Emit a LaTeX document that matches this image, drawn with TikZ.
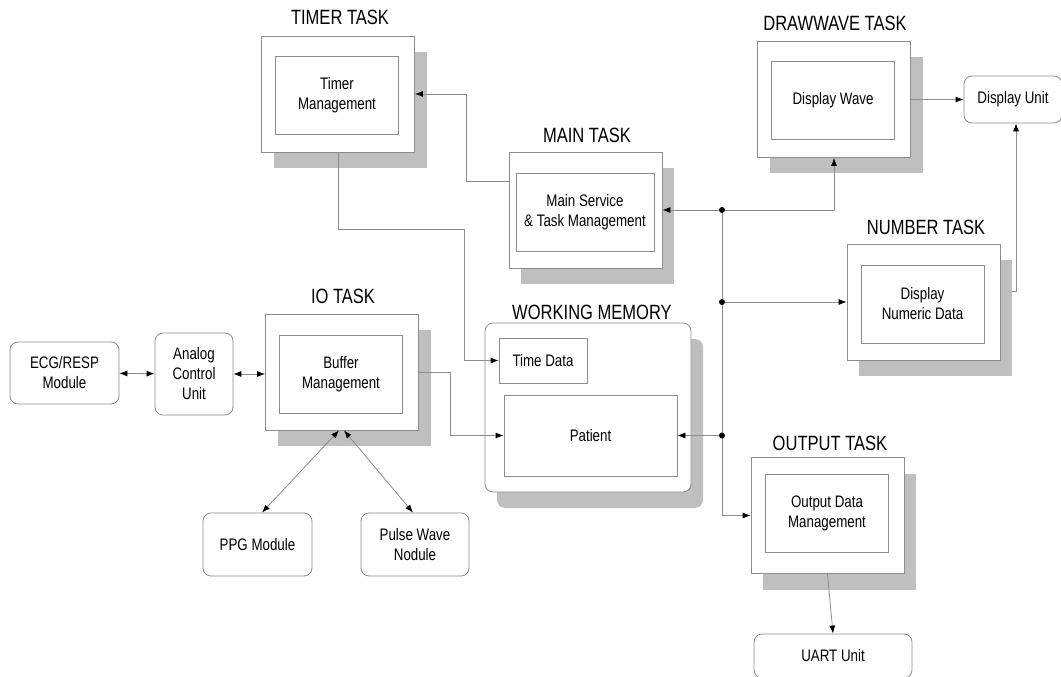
\documentclass[tikz,border=0pt]{standalone}
\usepackage{fontspec}
\setmainfont{Liberation Sans}[FakeStretch=0.8]
\usepackage{tikz}
\usetikzlibrary{arrows.meta,calc,positioning}
\tikzset{>={Latex[black,length=6pt,width=4.5pt]}}
\tikzstyle{task}=[rectangle,draw=black!45,fill=white,line width=0.6pt,inner sep=0,minimum width=114.75pt,minimum height=87pt]
\tikzstyle{backdrop}=[rectangle,fill=black!25,inner sep=0,minimum width=114.75pt,minimum height=87pt]
\tikzstyle{job}=[rectangle,draw=black!45,fill=white,line width=0.6pt,inner sep=0,align=center,minimum width=92.25pt,minimum height=58.5pt,font=\fontsize{12.5}{15}\selectfont]
\tikzstyle{module}=[rectangle,rounded corners=6pt,draw=black!45,fill=white,line width=0.6pt,inner sep=0,align=center,font=\fontsize{12.5}{15}\selectfont]
\tikzstyle{tasktitle}=[inner sep=0,font=\fontsize{15.5}{18}\selectfont]
\tikzstyle{link}=[draw=black!45,line width=0.6pt]

\begin{document}
\begin{tikzpicture}[x=0.75pt,y=-0.75pt,inner sep=1mm]
	\useasboundingbox (0,0) rectangle (1061,677);

	% shadows
	\node[backdrop] (timersh) at (350,110) {};
	\node[backdrop] (mainsh) at (597.5,226) {};
	\node[backdrop] (drawwavesh) at (846,115.5) {};
	\node[backdrop] (numbersh) at (935.5,318) {};
	\node[backdrop] (iosh) at (354,388) {};
	\node[backdrop] (outputsh) at (839.5,531.5) {};
	\node[backdrop, rounded corners=6pt, minimum width=154.5pt, minimum height=126.75pt] (memorysh) at (600,423.5) {};

	% tasks
	\node[task] (timer) at (338,94) {};
	\node[job] (timerjob) at (337,95) {Timer\\Management};
	\node[tasktitle] (timertitle) at (340,17.5) {TIMER TASK};

	\node[task] (main) at (585.5,210) {};
	\node[job, minimum width=103.5pt] (mainjob) at (585,212) {Main Service\\\& Task Management};
	\node[tasktitle] (maintitle) at (587,135) {MAIN TASK};

	\node[task] (drawwave) at (834,99.5) {};
	\node[job] (wavejob) at (833,100) {Display Wave};
	\node[tasktitle] (drawwavetitle) at (835,23) {DRAWWAVE TASK};

	\node[task] (number) at (923.5,302) {};
	\node[job] (numberjob) at (922.5,304) {Display\\Numeric Data};
	\node[tasktitle] (numbertitle) at (926,227) {NUMBER TASK};

	\node[task] (io) at (342,372) {};
	\node[job] (iojob) at (341,374.5) {Buffer\\Management};
	\node[tasktitle] (iotitle) at (343,296) {IO TASK};

	\node[task] (output) at (827.5,515.5) {};
	\node[job] (outputjob) at (827,513.5) {Output Data\\Management};
	\node[tasktitle] (outputtitle) at (830,443) {OUTPUT TASK};

	% working memory
	\node[module, minimum width=154.5pt, minimum height=126.75pt] (memory) at (588,407.5) {};
	\node[job, minimum width=66pt, minimum height=33.75pt] (timedata) at (543,360.5) {Time Data};
	\node[job, minimum width=129.75pt, minimum height=60.75pt] (patient) at (590.5,435.5) {Patient};
	\node[tasktitle] (memorytitle) at (592,312) {WORKING MEMORY};

	% units
	\node[module, minimum width=81.75pt, minimum height=46.5pt] (ecg) at (64.5,373) {ECG/RESP\\Module};
	\node[module, minimum width=58.5pt, minimum height=61.5pt] (analog) at (194,374) {Analog\\Control\\Unit};
	\node[module, minimum width=81.75pt, minimum height=47.25pt] (ppg) at (257.5,544.5) {PPG Module};
	\node[module, minimum width=81pt, minimum height=47.25pt] (pulse) at (415,544.5) {Pulse Wave\\Nodule};
	\node[module, minimum width=73.5pt, minimum height=35.25pt] (dispunit) at (1013,99.5) {Display Unit};
	\node[module, minimum width=118.5pt, minimum height=33pt] (uart) at (833,656) {UART Unit};

	\coordinate (bus1) at (722,210);
	\coordinate (bus2) at (722,302);
	\coordinate (bus3) at (722,435.5);

	\draw[link,->] ($(main.north west)+(0,30)$) -| ($(timer.east)+(51,0)$) -- (timer.east);
	\draw[link,->] (timer.south) -- ++(0,77) -| ($(timedata.west)+(-34,0)$) -- (timedata.west);
	\draw[link,->] (io.east) -| ($(patient.west)+(-53,0)$) -- (patient.west);

	\draw[link,->] (bus1) -- (main.east);
	\draw[link,->] (bus1) -| (drawwave.south);
	\draw[link,->] (bus1) |- (output.west);
	\draw[link,->] (bus2) -- (number.west);
	\draw[link,->] (bus3) -- (patient.east);
	\fill (bus1) circle (2.25pt);
	\fill (bus2) circle (2.25pt);
	\fill (bus3) circle (2.25pt);

	\draw[link,->] (drawwave.east) -- (dispunit.west);
	\draw[link,->] ($(numbersh.east)+(0,-27)$) -| ($(dispunit.south)+(3,0)$);
	\draw[link,->] (output.south) -- (uart.north);

	\draw[link,<->] (ecg) -- (analog);
	\draw[link,<->] (analog.east) -- (analog.east -| io.west);
	\draw[link,<->] ($(io.south)+(-3,0)$) -- ($(ppg.north)+(4.5,0)$);
	\draw[link,<->] ($(io.south)+(2,0)$) -- ($(pulse.north)+(-2,0)$);
\end{tikzpicture}
\end{document}
